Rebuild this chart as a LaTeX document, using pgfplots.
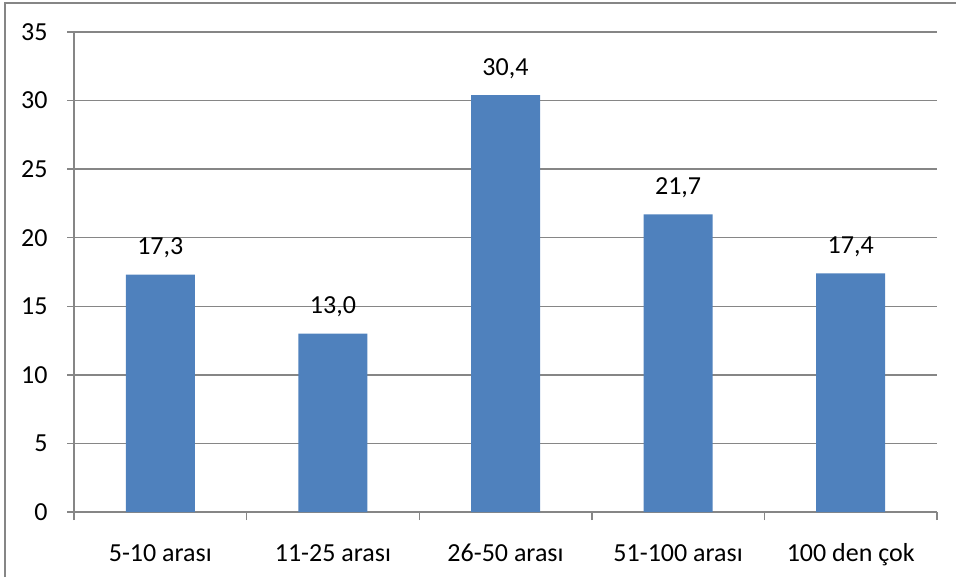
\documentclass[border=0pt]{standalone}
\usepackage{fontspec}
\setmainfont{Carlito}
\usepackage{pgfplots}
\pgfplotsset{compat=1.18}
\definecolor{barblue}{HTML}{4F81BD}
\definecolor{gridgray}{HTML}{868686}
\begin{document}
\begin{tikzpicture}
  % page: 956x577 px, 1 px = 0.5 pt, axis box lower left at (74,512) px
  \useasboundingbox (-37pt,-32.5pt) rectangle (441pt,256pt);
  \draw[gridgray, line width=0.7pt] (-34.5pt,-32.5pt) -- (-34.5pt,254.5pt) -- (441pt,254.5pt);
  \begin{axis}[
    at={(0,0)}, anchor=south west,
    scale only axis,
    width=431.5pt, height=240pt,
    ybar, bar width=34.5pt,
    xmin=-0.5, xmax=4.5,
    ymin=0, ymax=35,
    ytick={0,5,...,35},
    xtick={0,...,4},
    xticklabels={5-10 arası,11-25 arası,26-50 arası,51-100 arası,100 den çok},
    minor xtick={-0.5,0.5,...,4.5},
    axis x line*=bottom, axis y line*=left,
    axis line style={-, gridgray, line width=0.7pt},
    tick align=outside,
    major tick length=3.5pt, minor tick length=4pt,
    major x tick style={draw=none},
    minor x tick style={gridgray, line width=0.7pt},
    major y tick style={gridgray, line width=0.7pt},
    ymajorgrids, grid style={gridgray, line width=0.7pt},
    /pgf/number format/assume math mode=true,
    ticklabel style={font=\fontsize{13}{15}\selectfont},
    yticklabel style={anchor=east, inner sep=0pt, xshift=-9.5pt},
    xticklabel style={anchor=base, inner sep=0pt, yshift=-21pt},
    nodes near coords,
    nodes near coords style={font=\fontsize{13}{15}\selectfont, anchor=base, inner sep=0pt, yshift=10pt,
      /pgf/number format/.cd, fixed, fixed zerofill, precision=1, use comma, assume math mode=true},
  ]
    \addplot[fill=barblue, draw=none] coordinates {(0,17.3) (1,13.0) (2,30.4) (3,21.7) (4,17.4)};
  \end{axis}
\end{tikzpicture}
\end{document}
